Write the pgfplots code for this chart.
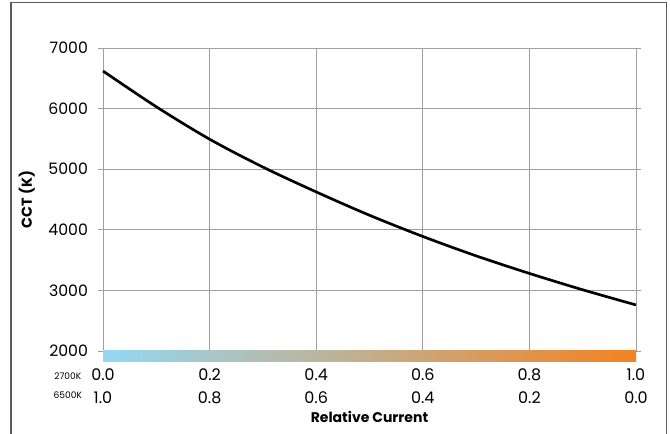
\documentclass[border=0pt]{standalone}
\usepackage{pgfplots}
\pgfplotsset{compat=1.18}
\usepackage{fontspec}
\setmainfont{Poppins}
\definecolor{cbL}{RGB}{148,216,243}
\definecolor{cbM}{RGB}{208,180,145}
\definecolor{cbR}{RGB}{243,130,34}
\definecolor{gridc}{RGB}{160,160,160}
\begin{document}
\begin{tikzpicture}[x=1pt,y=1pt]
\useasboundingbox (0,0) rectangle (502.5,325.5);
\draw[color={rgb,255:red,90;green,90;blue,90}, line width=1.2pt] (8.25,-5) -- (8.25,323.6) -- (499.8,323.6) -- (499.8,-5);
\begin{axis}[
  at={(77.25pt,62.25pt)}, anchor=south west,
  scale only axis, width=399.75pt, height=227.25pt,
  xmin=0, xmax=1, ymin=2000, ymax=7000,
  xtick={0,0.2,0.4,0.6,0.8,1},
  xticklabels={{0.0\\1.0},{0.2\\0.8},{0.4\\0.6},{0.6\\0.4},{0.8\\0.2},{1.0\\0.0}},
  xticklabel style={align=center, font=\fontsize{12}{17}\selectfont, yshift=-6pt},
  ytick={2000,3000,4000,5000,6000,7000},
  yticklabel style={font=\fontsize{11.8}{12}\selectfont, xshift=-4pt},
  /pgf/number format/assume math mode=true,
  scaled y ticks=false,
  yticklabel={\pgfmathprintnumber[1000 sep={}]{\tick}},
  xtick style={draw=none},
  ytick style={draw=gridc, line width=0.6pt},
  tick align=outside, major tick length=3.75pt,
  grid=major, grid style={gridc, line width=0.6pt},
  axis line style={gridc, line width=0.6pt},
  clip=false,
  xlabel={\textbf{Relative Current}},
  xlabel style={at={(axis description cs:0.5,0)}, anchor=center, yshift=-49.5pt, font=\fontsize{10.5}{12}\selectfont},
  ylabel={\textbf{CCT (K)}},
  ylabel style={at={(axis description cs:-0.143,0.5)}, anchor=center, font=\fontsize{10.8}{12}\selectfont},
]
\addplot[black, line width=2pt, smooth] coordinates {
(0,6620) (0.1,6030) (0.2,5495) (0.3,5035) (0.4,4625) (0.5,4240) (0.6,3890) (0.7,3570) (0.8,3280) (0.9,3010) (1.0,2760)
};
\path[left color=cbL, middle color=cbM, right color=cbR] (axis cs:0,2008) rectangle (axis cs:1,1823);
\node[font=\fontsize{6.8}{7}\selectfont] at (rel axis cs:-0.066,0) [yshift=-19pt] {2700K};
\node[font=\fontsize{6.8}{7}\selectfont] at (rel axis cs:-0.066,0) [yshift=-33.5pt] {6500K};
\end{axis}
\end{tikzpicture}
\end{document}
